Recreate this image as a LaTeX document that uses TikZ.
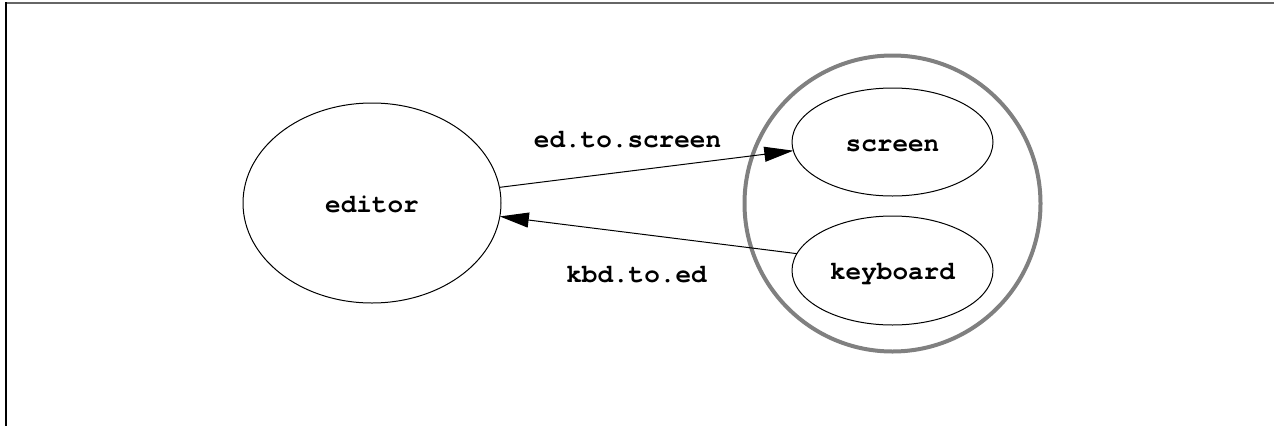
\documentclass[tikz,border=0pt]{standalone}
\usepackage{fontspec}
\setmonofont{TeX Gyre Cursor}
\usetikzlibrary{arrows.meta,shapes.geometric}
\begin{document}
\begin{tikzpicture}[x=1pt,y=-1pt,
  every node/.style={font=\fontsize{26}{30}\selectfont\ttfamily\bfseries},
  proc/.style={draw=black,line width=1pt,ellipse,inner sep=0pt,outer sep=0pt,
    text height=18pt,text depth=0pt},
  grp/.style={draw=black!50,line width=4pt,circle,inner sep=0pt,minimum size=296pt},
  chan/.style={draw=black,line width=1pt,-{Triangle[length=29pt,width=15pt]}},
  lbl/.style={anchor=base,inner sep=0pt}]
\useasboundingbox (0,0) rectangle (1274,426);
\draw[black!60,line width=2pt] (5,2.5) -- (1274,2.5);
\draw[black,line width=2pt] (6,2) -- (6,426);
\node[grp] (group) at (892.5,203.5) {};
\node[proc,minimum width=258pt,minimum height=200pt] (editor) at (372,203) {editor};
\node[proc,minimum width=201pt,minimum height=108pt] (screen) at (892.5,142) {screen};
\node[proc,minimum width=201pt,minimum height=109pt] (keyboard) at (892.5,270.5) {keyboard};
\draw[chan] (editor.7) -- (screen.185);
\draw[chan] (keyboard.170) -- (editor.354);
\node[lbl] (l1) at (627.5,147) {ed.to.screen};
\node[lbl] (l2) at (636.5,282) {kbd.to.ed};
\end{tikzpicture}
\end{document}
